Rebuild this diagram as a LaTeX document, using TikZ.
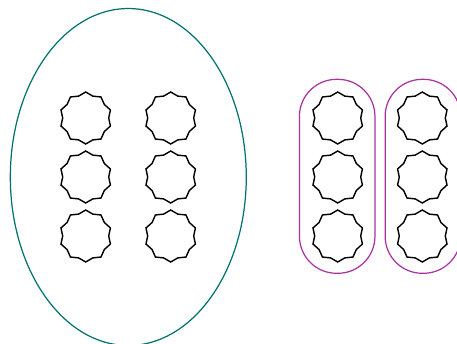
\documentclass[tikz,border=0pt]{standalone}
\usepackage{tikz}
\usetikzlibrary{shapes.geometric,positioning}
\definecolor{tealline}{RGB}{0,115,110}
\definecolor{pillline}{RGB}{170,50,160}

\begin{document}
\begin{tikzpicture}[
    x=0.02cm, y=-0.02cm,
    cell/.style={draw, star, star points=10, star point ratio=1.13, minimum size=1.04cm, inner sep=0pt, line width=0.8pt},
    blob/.style={draw=tealline, ellipse, minimum width=4.72cm, minimum height=6.74cm, inner sep=0pt, line width=0.7pt},
    pill/.style={draw=pillline, rounded corners=0.74cm, minimum width=1.51cm, minimum height=3.88cm, inner sep=0pt, line width=0.7pt}
]
\useasboundingbox (0,0) rectangle (457,343);

% ---- Left group ----
\node[blob] (leftset) at (128.3,177) {};
\node[cell] (a1) at (85.7,118) {};
\node[cell] (a2) at (85.7,177) {};
\node[cell] (a3) at (85.7,236) {};
\node[cell] (b1) at (170.7,118) {};
\node[cell] (b2) at (170.7,177) {};
\node[cell] (b3) at (170.7,236) {};

% ---- Right groups ----
\node[pill] (midset) at (337.2,176.3) {};
\node[cell] (c1) at (337.7,118) {};
\node[cell] (c2) at (337.7,177) {};
\node[cell] (c3) at (337.7,236) {};

\node[pill] (rightset) at (422.9,176.3) {};
\node[cell] (d1) at (422.3,118) {};
\node[cell] (d2) at (422.3,177) {};
\node[cell] (d3) at (422.3,236) {};

\end{tikzpicture}
\end{document}
